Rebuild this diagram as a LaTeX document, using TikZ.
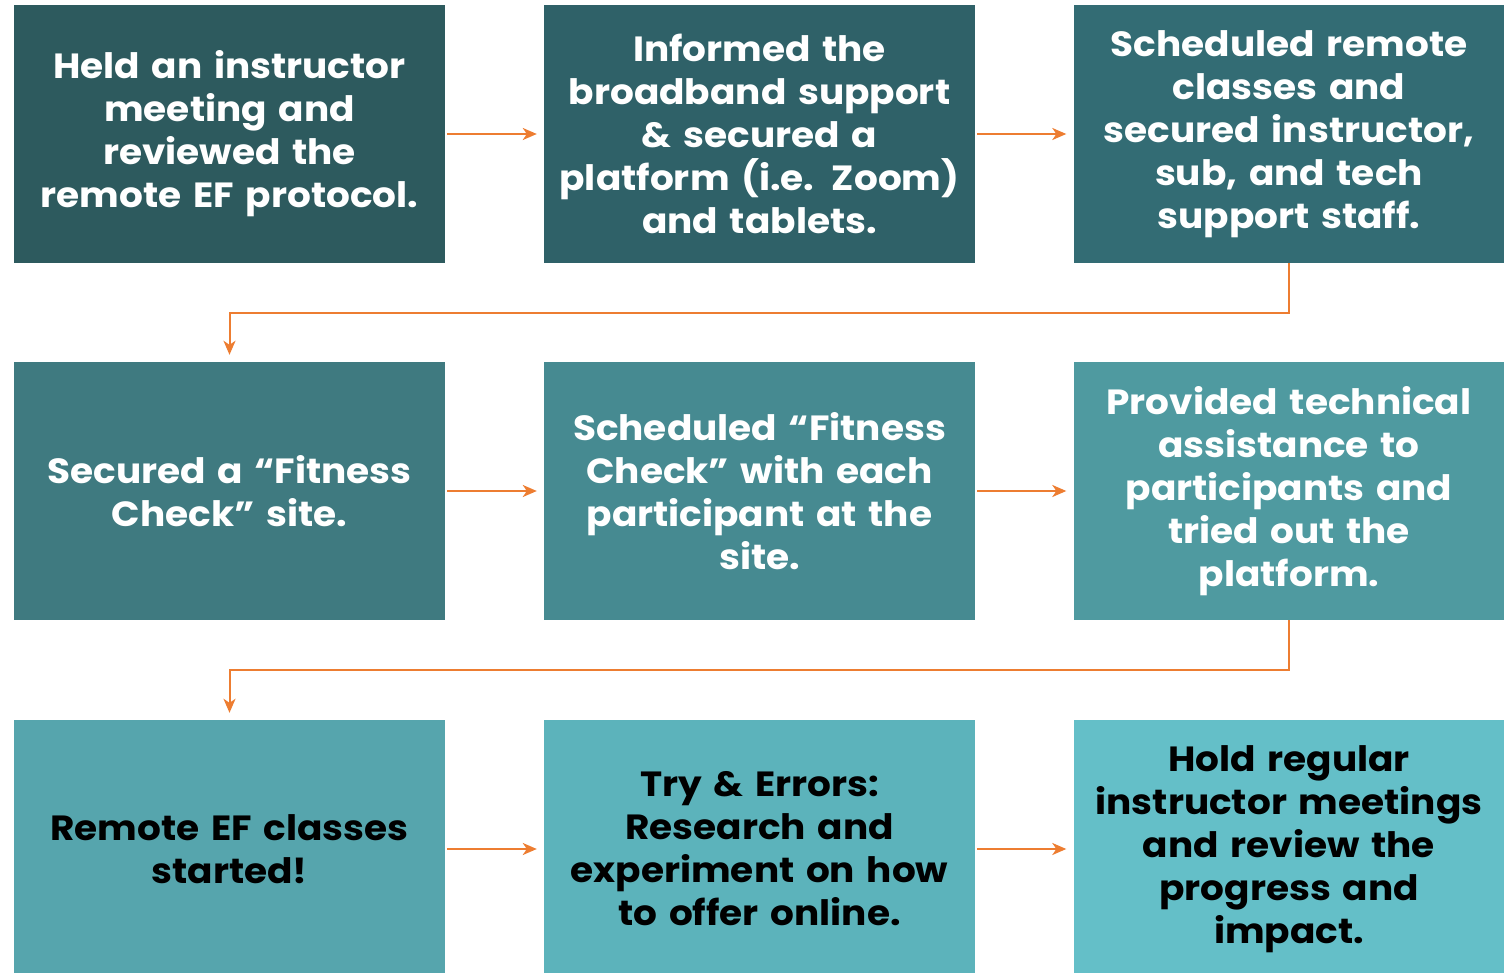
\documentclass[tikz,border=0pt]{standalone}
\usepackage{fontspec}
\setmainfont{Poppins}[FakeStretch=1.07]
\usetikzlibrary{arrows.meta}
\definecolor{c1}{HTML}{2D5A5E}
\definecolor{c2}{HTML}{2F6168}
\definecolor{c3}{HTML}{336C74}
\definecolor{c4}{HTML}{3F7A80}
\definecolor{c5}{HTML}{468A91}
\definecolor{c6}{HTML}{4F9AA0}
\definecolor{c7}{HTML}{56A5AD}
\definecolor{c8}{HTML}{5CB3BB}
\definecolor{c9}{HTML}{64BFC8}
\definecolor{flow}{HTML}{ED7D31}
\tikzset{
  stepbox/.style={rectangle, inner sep=0pt, minimum width=431pt, minimum height=258pt,
    text width=425pt, align=center, font=\fontsize{35}{43}\selectfont\bfseries},
  lightbox/.style={stepbox, text=white},
  darkbox/.style={stepbox, text=black},
  flowline/.style={draw=flow, line width=2pt, -{Stealth[length=14pt,width=12pt,inset=4pt]}}
}
\begin{document}
\begin{tikzpicture}[x=1pt,y=-1pt]
\useasboundingbox (0,0) rectangle (1504,973);
\begin{scope}
\clip (0,0) rectangle (1504,973);
% row 1
\node[lightbox, fill=c1] (a1) at (229.5,134) {Held an instructor\\meeting and\\reviewed the\\remote EF protocol.};
\node[lightbox, fill=c2] (a2) at (759.5,134) {Informed the\\broadband support\\\& secured a\\platform (i.e. Zoom)\\and tablets.};
\node[lightbox, fill=c3] (a3) at (1289,134) {Scheduled remote\\classes and\\secured instructor,\\sub, and tech\\support staff.};
% row 2
\node[lightbox, fill=c4] (b1) at (229.5,491) {Secured a “Fitness\\Check” site.};
\node[lightbox, fill=c5] (b2) at (759.5,491) {Scheduled “Fitness\\Check” with each\\participant at the\\site.};
\node[lightbox, fill=c6] (b3) at (1289,491) {Provided technical\\assistance to\\participants and\\tried out the\\platform.};
% row 3
\node[darkbox, fill=c7] (c1n) at (229.5,849) {Remote EF classes\\started!};
\node[darkbox, fill=c8] (c2n) at (759.5,849) {Try \& Errors:\\Research and\\experiment on how\\to offer online.};
\node[darkbox, fill=c9] (c3n) at (1289,849) {Hold regular\\instructor meetings\\and review the\\progress and\\impact.};
\end{scope}
% connectors
\draw[flowline] ([xshift=2pt]a1.east) -- ([xshift=-7pt]a2.west);
\draw[flowline] ([xshift=2pt]a2.east) -- ([xshift=-7pt]a3.west);
\draw[flowline] ([xshift=2pt]b1.east) -- ([xshift=-7pt]b2.west);
\draw[flowline] ([xshift=2pt]b2.east) -- ([xshift=-7pt]b3.west);
\draw[flowline] ([xshift=2pt]c1n.east) -- ([xshift=-7pt]c2n.west);
\draw[flowline] ([xshift=2pt]c2n.east) -- ([xshift=-7pt]c3n.west);
\draw[flowline] (a3.south) -- ++(0,50) -| ([yshift=7pt]b1.north);
\draw[flowline] (b3.south) -- ++(0,50) -| ([yshift=7pt]c1n.north);
\end{tikzpicture}
\end{document}
